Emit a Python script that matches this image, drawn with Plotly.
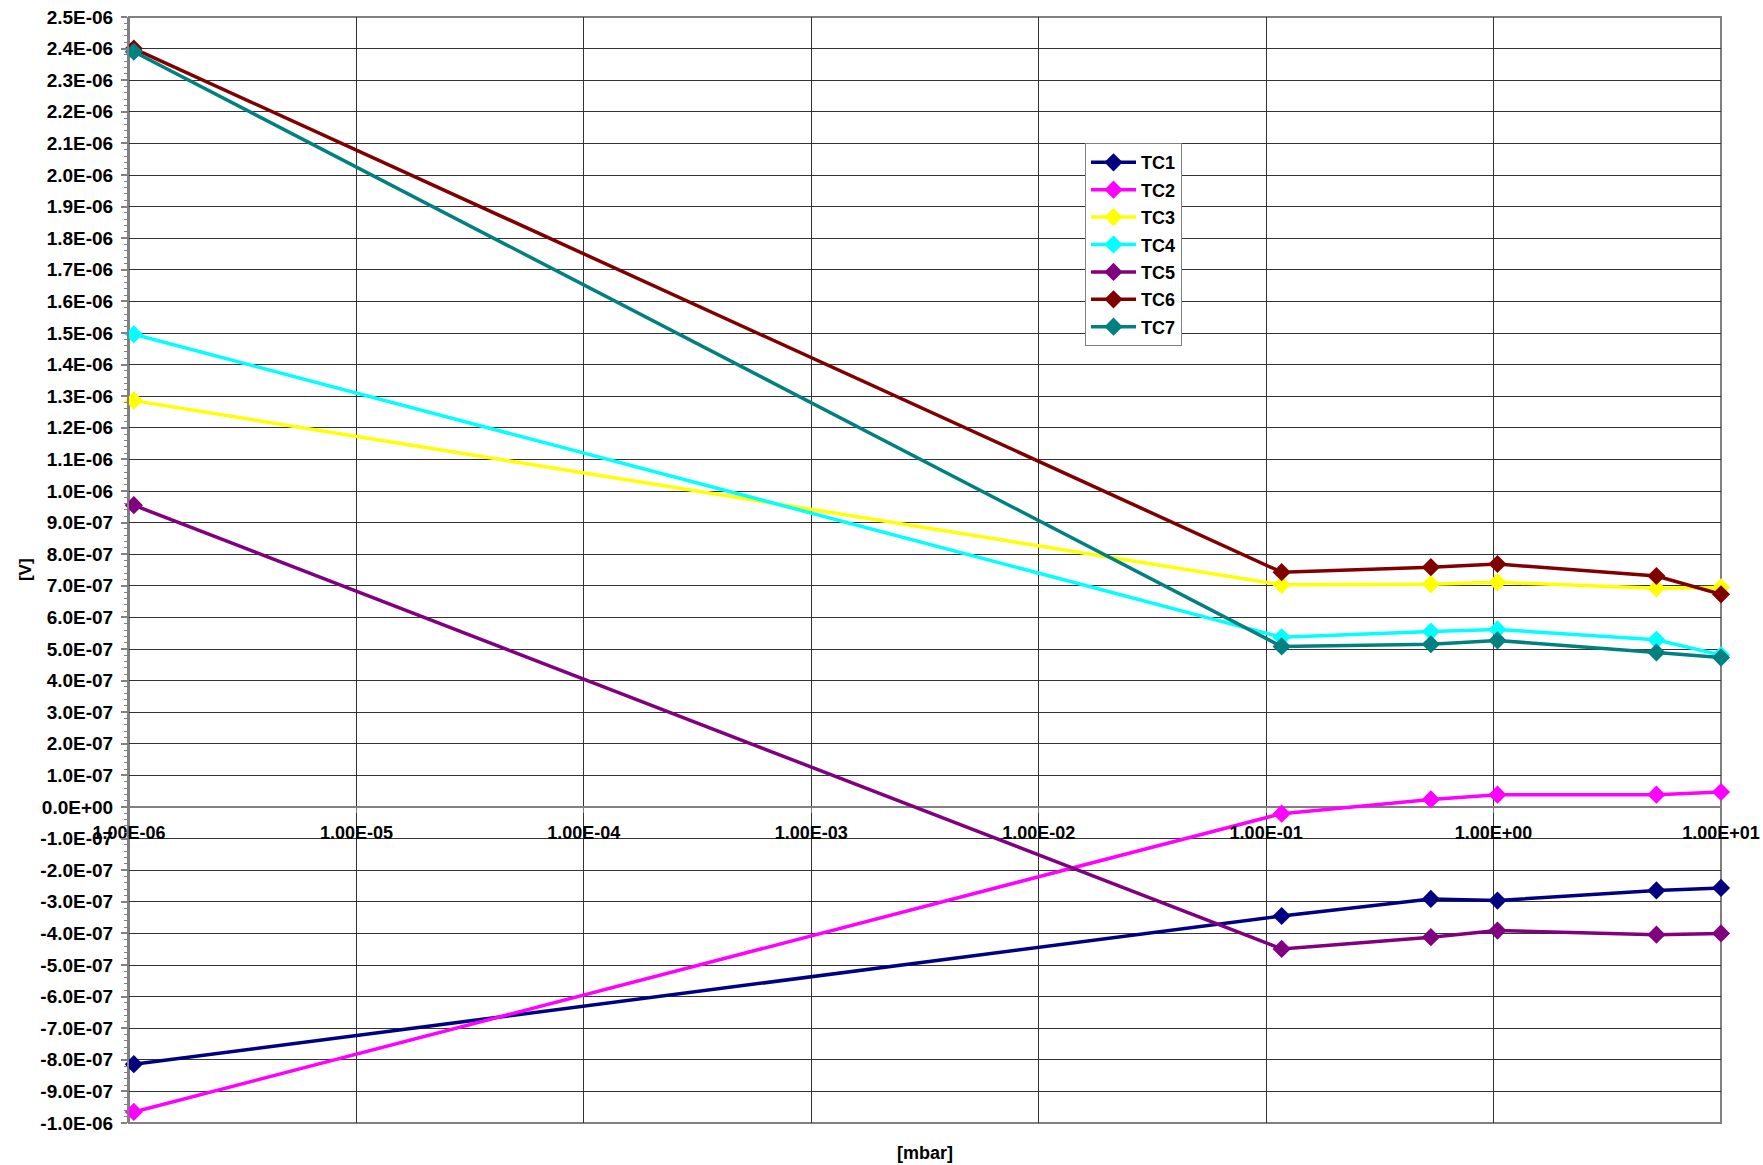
import plotly.graph_objects as go

# Pressure points [mbar]
pressure = [1.05e-6, 0.117, 0.53, 1.04, 5.2, 10.0]

# Thermocouple signals [V]
tc1 = [-8.14e-7, -3.45e-7, -2.91e-7, -2.96e-7, -2.64e-7, -2.56e-7]
tc2 = [-9.65e-7, -2.1e-8, 2.4e-8, 3.9e-8, 3.9e-8, 4.75e-8]
tc3 = [1.286e-6, 7.03e-7, 7.05e-7, 7.11e-7, 6.92e-7, 6.95e-7]
tc4 = [1.496e-6, 5.37e-7, 5.55e-7, 5.62e-7, 5.29e-7, 4.81e-7]
tc5 = [9.55e-7, -4.49e-7, -4.12e-7, -3.91e-7, -4.04e-7, -4.0e-7]
tc6 = [2.40e-6, 7.43e-7, 7.59e-7, 7.69e-7, 7.31e-7, 6.73e-7]
tc7 = [2.39e-6, 5.08e-7, 5.15e-7, 5.27e-7, 4.89e-7, 4.73e-7]

series_names = ["TC1", "TC2", "TC3", "TC4", "TC5", "TC6", "TC7"]
series_values = [tc1, tc2, tc3, tc4, tc5, tc6, tc7]
series_colors = ["#000080", "#FF00FF", "#FFFF00", "#00FFFF", "#800080", "#800000", "#008080"]

# Axis ticks
x_tickvals = [1e-6, 1e-5, 1e-4, 1e-3, 1e-2, 1e-1, 1e0, 1e1]
x_ticktext = ["1.00E-06", "1.00E-05", "1.00E-04", "1.00E-03",
              "1.00E-02", "1.00E-01", "1.00E+00", "1.00E+01"]
y_tickvals = [round(-1.0e-6 + i * 1e-7, 12) for i in range(36)]
y_ticktext = [f"{v:.1E}" if abs(v) > 1e-12 else "0.0E+00" for v in y_tickvals]

FONT = "Arial, 'Liberation Sans', sans-serif"
Y_MIN, Y_MAX = -1.0e-6, 2.5e-6

fig = go.Figure()
for name, vals, col in zip(series_names, series_values, series_colors):
    fig.add_trace(go.Scatter(
        x=pressure, y=vals, name=name, legendgroup=name, mode="lines+markers",
        line=dict(color=col, width=3.5),
        marker=dict(symbol="diamond", size=14, color=col),
        cliponaxis=False,
    ))

grid_col = "#333333"
frame_col = "#808080"

fig.update_layout(
    width=1763, height=1165,
    margin=dict(l=129, r=42, t=17, b=42),
    paper_bgcolor="white", plot_bgcolor="white",
    font=dict(family=FONT, size=18, color="black"),
    showlegend=True,
    legend=dict(
        x=0.6005, y=0.886, xanchor="left", yanchor="top",
        bgcolor="white", bordercolor=frame_col, borderwidth=1,
        font=dict(family=FONT, size=18, color="black", weight="bold"),
        tracegroupgap=1, itemwidth=45,
    ),
    xaxis=dict(
        type="log", range=[-6, 1], automargin=False,
        tickmode="array", tickvals=x_tickvals, ticktext=x_ticktext,
        anchor="free", position=(0 - Y_MIN) / (Y_MAX - Y_MIN),
        showline=False, ticks="outside", ticklen=5, tickcolor=frame_col,
        ticklabelstandoff=4,
        tickfont=dict(family=FONT, size=18, color="black", weight="bold"),
        showgrid=True, gridcolor=grid_col, gridwidth=1,
        zeroline=False,
    ),
    yaxis=dict(
        range=[Y_MIN, Y_MAX], automargin=False,
        tickmode="array", tickvals=y_tickvals, ticktext=y_ticktext,
        ticks="outside", ticklen=6, tickcolor=frame_col, tickwidth=2,
        ticklabelstandoff=4,
        tickfont=dict(family=FONT, size=19, color="black", weight="bold"),
        showline=True, linecolor=frame_col, linewidth=2,
        showgrid=True, gridcolor=grid_col, gridwidth=1,
        zeroline=True, zerolinecolor=frame_col, zerolinewidth=2,
        minor=dict(tickmode="linear", tick0=0, dtick=2e-8, ticks="outside",
                   ticklen=3, tickcolor=frame_col, tickwidth=1, showgrid=False),
    ),
    shapes=[dict(type="rect", xref="paper", yref="paper", x0=0, y0=0, x1=1, y1=1,
                 line=dict(color=frame_col, width=2), layer="between")],
    annotations=[
        dict(text="[mbar]", xref="paper", yref="paper", x=(925 - 129) / (1721 - 129),
             y=-0.027, xanchor="center", yanchor="middle", showarrow=False,
             font=dict(family=FONT, size=18, color="black", weight="bold")),
        dict(text="[V]", xref="paper", yref="paper", x=-0.0653, y=0.5,
             xanchor="center", yanchor="middle", textangle=-90, showarrow=False,
             font=dict(family=FONT, size=17, color="black", weight="bold")),
    ],
)

fig.write_html("out.html")
